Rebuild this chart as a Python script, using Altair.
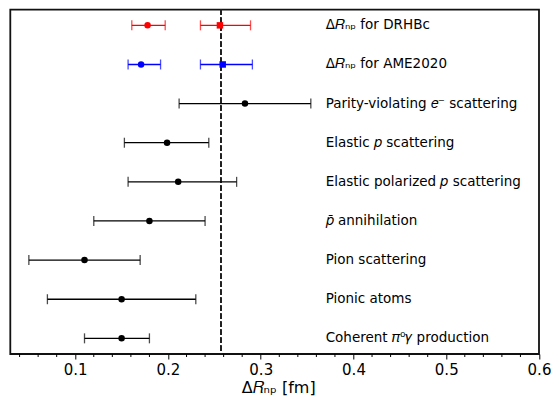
import altair as alt
import pandas as pd

# ---- data ----
labels = [
    "Δ𝑅ₙₚ for DRHBc",
    "Δ𝑅ₙₚ for AME2020",
    "Parity-violating 𝑒⁻ scattering",
    "Elastic 𝑝 scattering",
    "Elastic polarized 𝑝 scattering",
    "𝑝̄ annihilation",
    "Pion scattering",
    "Pionic atoms",
    "Coherent 𝜋⁰𝛾 production",
]
label_rows = [0, 1, 2, 3, 4, 5, 6, 7, 8]

point_row = [0, 0, 1, 1, 2, 3, 4, 5, 6, 7, 8]
point_val = [0.178, 0.256, 0.171, 0.259, 0.283, 0.199, 0.211, 0.180, 0.110, 0.150, 0.150]
point_lo = [0.161, 0.235, 0.157, 0.235, 0.212, 0.153, 0.157, 0.120, 0.050, 0.070, 0.110]
point_hi = [0.197, 0.289, 0.192, 0.291, 0.354, 0.244, 0.274, 0.240, 0.170, 0.230, 0.180]
point_color = ["red", "red", "blue", "blue", "black", "black", "black", "black", "black", "black", "black"]
point_shape = ["circle", "square", "circle", "square", "circle", "circle", "circle", "circle", "circle", "circle", "circle"]

ref_value = 0.257
x_title = "Δ𝑅ₙₚ [fm]"
major_ticks = [0.1, 0.2, 0.3, 0.4, 0.5, 0.6]
minor_ticks = [0.04, 0.06, 0.08, 0.12, 0.14, 0.16, 0.18, 0.22, 0.24, 0.26, 0.28,
               0.32, 0.34, 0.36, 0.38, 0.42, 0.44, 0.46, 0.48, 0.52, 0.54, 0.56, 0.58]

pts = pd.DataFrame({
    "row": point_row, "val": point_val, "lo": point_lo, "hi": point_hi,
    "color": point_color, "shape": point_shape,
})
lab = pd.DataFrame({"row": label_rows, "label": labels})
minor = pd.DataFrame({"t": minor_ticks})
ttl = pd.DataFrame({"title": [x_title]})

W, H = 528.7, 344.3
FONT = "DejaVu Sans"

xs = alt.Scale(domain=[0.03, 0.6], nice=False, zero=False)
ys = alt.Scale(domain=[-0.4, 8.4], reverse=True, nice=False, zero=False)
x_axis = alt.Axis(
    values=major_ticks, format=".1f", title=None,
    labelFontSize=15, labelFont=FONT, labelColor="black",
    tickSize=5, tickColor="black", tickWidth=1, domain=False, grid=False,
    labelPadding=3, labelFlush=False, labelOverlap=False,
)

def X(field):
    return alt.X(field, type="quantitative", scale=xs, axis=x_axis)

Y = alt.Y("row:Q", scale=ys, axis=None)
C = alt.Color("color:N", scale=None)

bars = alt.Chart(pts).mark_rule(strokeWidth=1.3).encode(x=X("lo"), x2="hi:Q", y=Y, color=C)
cap_lo = alt.Chart(pts).mark_tick(orient="vertical", size=10, thickness=1.3).encode(x=X("lo"), y=Y, color=C)
cap_hi = alt.Chart(pts).mark_tick(orient="vertical", size=10, thickness=1.3).encode(x=X("hi"), y=Y, color=C)
points = alt.Chart(pts).mark_point(filled=True, size=42, opacity=1).encode(
    x=X("val"), y=Y, color=C, shape=alt.Shape("shape:N", scale=None)
)
vline = alt.Chart(pts).mark_rule(strokeDash=[5, 3], strokeWidth=1.5, color="#222222").encode(
    x=alt.X(datum=ref_value, type="quantitative", scale=xs, axis=x_axis)
)
texts = alt.Chart(lab).mark_text(align="left", baseline="middle", fontSize=13.5, font=FONT, color="black").encode(
    x=alt.X(datum=0.37, type="quantitative", scale=xs, axis=x_axis), y=Y, text="label:N"
)
minor_rules = alt.Chart(minor).mark_rule(color="black", strokeWidth=1).encode(
    x=X("t"), y=alt.value(H), y2=alt.value(H + 3)
)
title_text = alt.Chart(ttl).mark_text(
    align="center", baseline="alphabetic", fontSize=16, font=FONT, color="black"
).encode(x=alt.value(W / 2 + 4), y=alt.value(H + 39), text="title:N")

chart = alt.layer(vline, bars, cap_lo, cap_hi, points, texts, minor_rules, title_text).properties(
    width=W, height=H,
    autosize=alt.AutoSizeParams(type="none"),
    padding={"left": 2.3, "top": 1.7, "right": 12, "bottom": 42},
).configure_view(stroke="#111111", strokeWidth=1.8)

chart.save("out.html", embed_options={"renderer": "svg", "actions": False})
